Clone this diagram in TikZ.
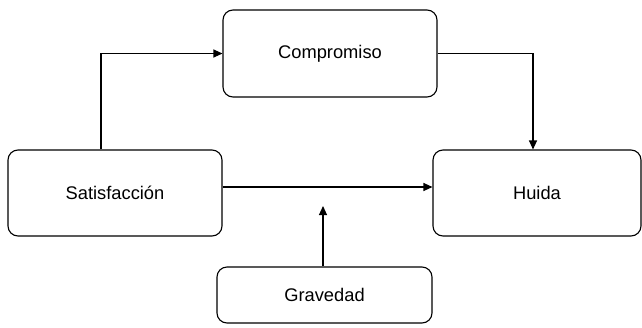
\documentclass[tikz,border=0pt]{standalone}
\usepackage{fontspec}
\setmainfont{Liberation Sans}
\usetikzlibrary{arrows.meta,calc}
\begin{document}
\begin{tikzpicture}[x=1pt,y=-1pt,
  box/.style={draw=black,line width=1.1pt,rounded corners=10pt,inner sep=0pt,
    font=\fontsize{18.3}{21}\selectfont},
  conn/.style={draw=black,line width=1.1pt,-{Triangle[length=9pt,width=8pt]}}]
\useasboundingbox (0,0) rectangle (642,327);
\node[box,minimum width=214pt,minimum height=87pt] (comp) at (330,53.5) {Compromiso};
\node[box,minimum width=214pt,minimum height=86pt] (sat) at (115,193) {Satisfacción};
\node[box,minimum width=208pt,minimum height=86pt] (hui) at (537,193) {Huida};
\node[box,minimum width=215pt,minimum height=56pt] (grav) at (324.5,295) {Gravedad};
\coordinate (gt) at (323,206);
\draw[conn] ([xshift=-14pt]sat.north) |- (comp.west);
\draw[conn] (comp.east) -| ([xshift=-4pt]hui.north);
\draw[conn] ([yshift=6pt]sat.east) -- ([yshift=6pt]hui.west);
\draw[conn] (grav.north -| gt) -- (gt);
\end{tikzpicture}
\end{document}
